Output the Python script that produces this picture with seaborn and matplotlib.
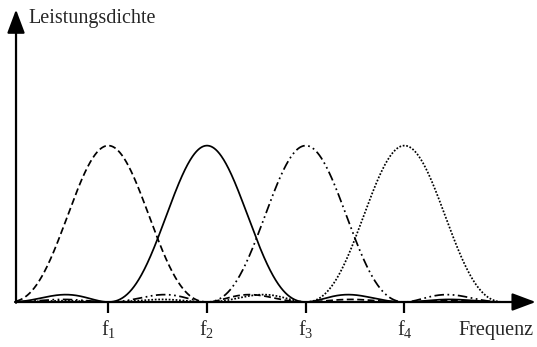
import numpy as np
import pandas as pd
import matplotlib
matplotlib.use("Agg")
import matplotlib.pyplot as plt
import seaborn as sns

# Subcarrier centre frequencies (in units of the carrier spacing) and labels
centers = [1, 2, 3, 4]
tick_labels = [r"$\mathregular{f_1}$", r"$\mathregular{f_2}$",
               r"$\mathregular{f_3}$", r"$\mathregular{f_4}$"]
peak = [1.0, 1.0, 1.0, 1.0]
x_label = "Frequenz"
y_label = "Leistungsdichte"

# line styles for the four spectra
styles = [(0, (4, 2)),                      # dashed
          "-",                              # solid
          (0, (5.5, 2, 1, 2, 1, 2)),        # dash-dot-dot
          (0, (1, 1))]                      # dotted

sns.set_theme(style="white")
plt.rcParams["font.family"] = ["Liberation Serif", "DejaVu Serif"]
plt.rcParams["mathtext.fontset"] = "custom"
plt.rcParams["mathtext.rm"] = "Liberation Serif"

fig = plt.figure(figsize=(5.37, 3.47), dpi=100)
ax = fig.add_axes([0, 0, 1, 1])
ax.set_xlim(-0.0973, 5.343)
ax.set_ylim(-0.2877, 1.931)
ax.axis("off")

f = np.linspace(0.065, 5.0, 1500)
for c, a, ls in zip(centers, peak, styles):
    df = pd.DataFrame({"f": f, "S": a * np.sinc(f - c) ** 2})
    sns.lineplot(data=df, x="f", y="S", ax=ax, color="black",
                 linewidth=1.25, linestyle=ls, legend=False)

# axes with arrow heads
x0 = 0.065
head = "-|>,head_length=1.2,head_width=0.45"
ax.annotate("", xy=(5.33, 0), xytext=(x0 - 0.01, 0), annotation_clip=False,
            arrowprops=dict(arrowstyle=head, color="black", lw=1.6,
                            shrinkA=0, shrinkB=0))
ax.annotate("", xy=(x0, 1.87), xytext=(x0, -0.005), annotation_clip=False,
            arrowprops=dict(arrowstyle=head, color="black", lw=1.6,
                            shrinkA=0, shrinkB=0))

# ticks and labels
for c, lab in zip(centers, tick_labels):
    ax.plot([c, c], [0, -0.072], color="black", lw=1.6, solid_capstyle="butt")
    ax.text(c, -0.175, lab, ha="center", va="center", fontsize=14.5)

ax.text(4.55, -0.18, x_label, ha="left", va="center", fontsize=14.5)
ax.text(0.19, 1.815, y_label, ha="left", va="center", fontsize=14.5)

fig.savefig("out.png", dpi=100)
